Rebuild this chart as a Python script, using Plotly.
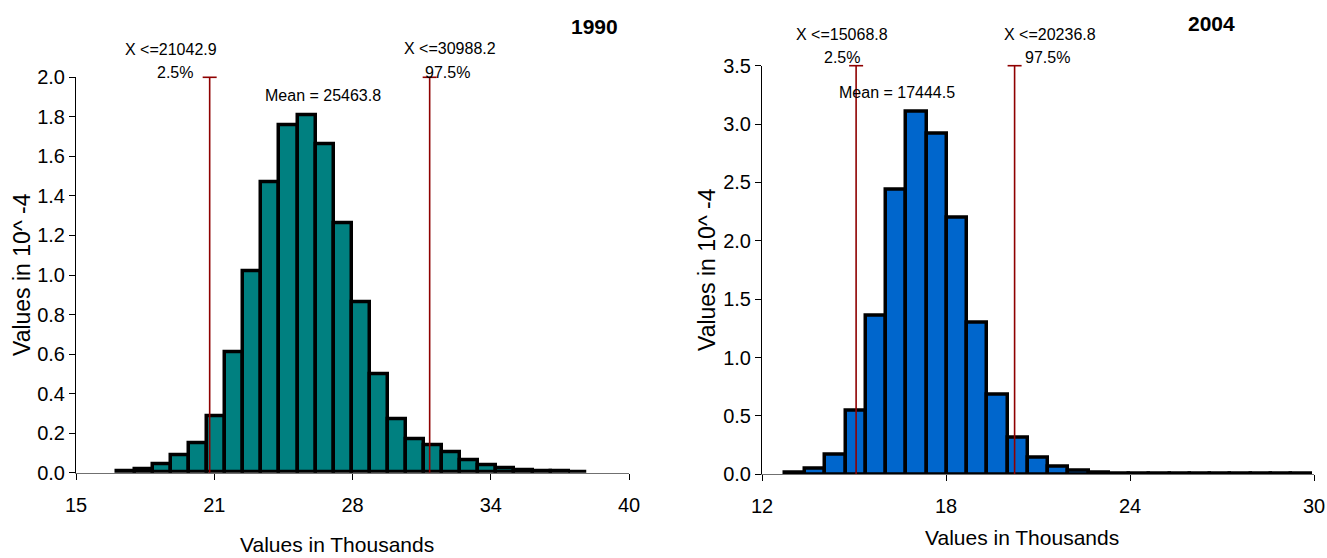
import plotly.graph_objects as go

W, H = 1327, 558

# ---------------- data ----------------
# 1990 histogram (values in 10^-4), 26 bins
bin_start_1990 = 16.845
bin_width_1990 = 0.8171
heights_1990 = [0.007, 0.015, 0.043, 0.088, 0.149, 0.287, 0.609, 1.017, 1.467, 1.759,
                1.809, 1.661, 1.261, 0.862, 0.498, 0.268, 0.167, 0.139, 0.101, 0.061,
                0.039, 0.020, 0.012, 0.008, 0.006, 0.004]
pct_1990 = [21.0429, 30.9882]           # thousands
pct_labels_1990 = ["X <=21042.9", "X <=30988.2"]
pct_names_1990 = ["2.5%", "97.5%"]
mean_label_1990 = "Mean = 25463.8"
xticks_1990 = [15, 21.25, 27.5, 33.75, 40]
xticktext_1990 = ["15", "21", "28", "34", "40"]
yticks_1990 = [0.0, 0.2, 0.4, 0.6, 0.8, 1.0, 1.2, 1.4, 1.6, 1.8, 2.0]

# 2004 histogram (values in 10^-4), 26 bins
bin_start_2004 = 12.75
bin_width_2004 = 0.660
heights_2004 = [0.015, 0.045, 0.165, 0.545, 1.360, 2.435, 3.107, 2.920, 2.195, 1.295,
                0.680, 0.310, 0.140, 0.065, 0.028, 0.015, 0.008, 0.004, 0.003, 0.002,
                0.002, 0.001, 0.001, 0.001, 0.001, 0.001]
pct_2004 = [15.0688, 20.2368]
pct_labels_2004 = ["X <=15068.8", "X <=20236.8"]
pct_names_2004 = ["2.5%", "97.5%"]
mean_label_2004 = "Mean = 17444.5"
xticks_2004 = [12, 18, 24, 30]
xticktext_2004 = ["12", "18", "24", "30"]
yticks_2004 = [0.0, 0.5, 1.0, 1.5, 2.0, 2.5, 3.0, 3.5]

FONT = "Arial, Liberation Sans, sans-serif"
RED = "#8f0000"


def px(x):
    return x / W


def py(y):
    return 1 - y / H


centers_1990 = [bin_start_1990 + (i + 0.5) * bin_width_1990 for i in range(len(heights_1990))]
centers_2004 = [bin_start_2004 + (i + 0.5) * bin_width_2004 for i in range(len(heights_2004))]

fig = go.Figure()

fig.add_trace(go.Bar(x=centers_1990, y=heights_1990, width=bin_width_1990,
                     marker=dict(color="#008080", line=dict(color="black", width=3.5)),
                     xaxis="x", yaxis="y", showlegend=False))
fig.add_trace(go.Bar(x=centers_2004, y=heights_2004, width=bin_width_2004,
                     marker=dict(color="#0066cc", line=dict(color="black", width=3.5)),
                     xaxis="x2", yaxis="y2", showlegend=False))

# percentile lines with cap
for vals, ymax, xa, ya in [(pct_1990, 2.0, "x", "y"), (pct_2004, 3.5, "x2", "y2")]:
    for v in vals:
        fig.add_trace(go.Scatter(x=[v, v], y=[0, ymax], mode="lines",
                                 line=dict(color=RED, width=1.6),
                                 xaxis=xa, yaxis=ya, showlegend=False, cliponaxis=False))
        fig.add_trace(go.Scatter(x=[v], y=[ymax], mode="markers",
                                 marker=dict(symbol="line-ew", size=10,
                                             line=dict(color=RED, width=1.6)),
                                 xaxis=xa, yaxis=ya, showlegend=False, cliponaxis=False))

axis_common = dict(showgrid=False, zeroline=False, showline=True, ticks="outside",
                   ticklen=6, tickcolor="black", linewidth=1,
                   automargin=False, ticklabeloverflow="allow",
                   tickfont=dict(family=FONT, size=20, color="black"))

fig.update_layout(
    template="none",
    width=W, height=H,
    margin=dict(l=0, r=0, t=0, b=0, autoexpand=False),
    plot_bgcolor="white", paper_bgcolor="white",
    bargap=0,
    xaxis=dict(domain=[px(76), px(629)], range=[15, 40], anchor="y", linecolor="#707070",
               tickvals=xticks_1990, ticktext=xticktext_1990, ticklabelstandoff=8,
               **axis_common),
    yaxis=dict(domain=[py(472.7), py(77.3)], range=[0, 2.0], anchor="x", linecolor="black",
               tickvals=yticks_1990, tickformat=".1f", **axis_common),
    xaxis2=dict(domain=[px(762), px(1314)], range=[12, 30], anchor="y2", linecolor="#707070",
                tickvals=xticks_2004, ticktext=xticktext_2004, ticklabelstandoff=8,
                **axis_common),
    yaxis2=dict(domain=[py(474.3), py(65.7)], range=[0, 3.5], anchor="x2", linecolor="black",
                tickvals=yticks_2004, tickformat=".1f", **axis_common),
)

ann = []


def text(x, y, s, size=16, bold=False, angle=0):
    ann.append(dict(x=px(x), y=py(y), xref="paper", yref="paper", text=(f"<b>{s}</b>" if bold else s),
                    showarrow=False, xanchor="center", yanchor="middle", textangle=angle,
                    font=dict(family=FONT, size=size, color="black")))


# 1990 panel texts
text(171, 49, pct_labels_1990[0])
text(175, 73, pct_names_1990[0])
text(450, 48, pct_labels_1990[1])
text(448, 72, pct_names_1990[1])
text(323, 95, mean_label_1990)
text(594, 27, "1990", size=21, bold=True)
text(22, 275, "Values in 10^ -4", size=23, angle=-90)
text(337, 544, "Values in Thousands", size=21)

# 2004 panel texts
text(842, 34, pct_labels_2004[0])
text(842, 58, pct_names_2004[0])
text(1050, 34, pct_labels_2004[1])
text(1047, 58, pct_names_2004[1])
text(897, 93, mean_label_2004)
text(1211, 24, "2004", size=21, bold=True)
text(707, 270, "Values in 10^ -4", size=23, angle=-90)
text(1022, 537, "Values in Thousands", size=21)

fig.update_layout(annotations=ann)

fig.write_html("out.html",
               config={"displayModeBar": False},
               post_script="document.body.style.margin='0';document.body.style.overflow='hidden';")
